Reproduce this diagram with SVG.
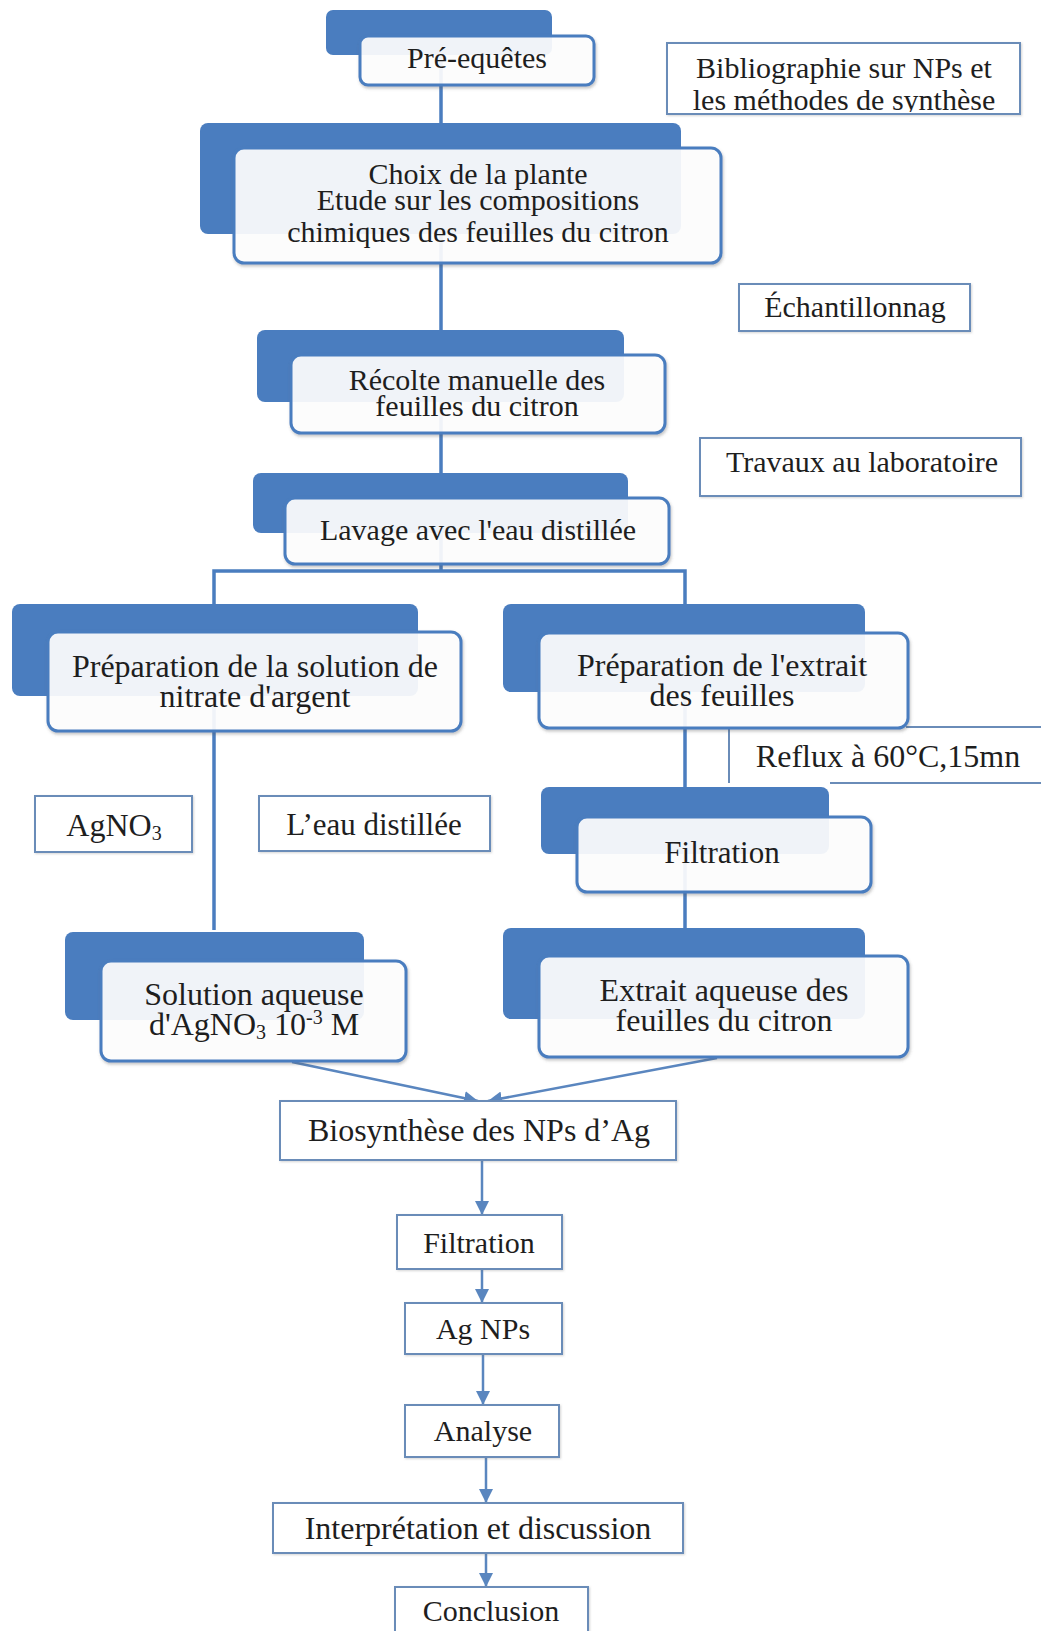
<svg xmlns="http://www.w3.org/2000/svg" width="1041" height="1631" viewBox="0 0 1041 1631">
<defs>
<style>
.tab{fill:#4a7dbf;}
.card{fill:#ffffff;fill-opacity:0.9;stroke:#4a7dbf;stroke-width:3;filter:url(#sh);}
.box{fill:#ffffff;stroke:#6a8cb8;stroke-width:2;filter:url(#sh2);}
.t{font-family:"Liberation Serif","Times New Roman",serif;fill:#1e1e1e;text-anchor:middle;font-size:30px;}
.m{font-size:32px;}
.conn{stroke:#4a7dbf;stroke-width:3.5;fill:none;}
.arr{stroke:#5a86bf;stroke-width:2.5;fill:none;marker-end:url(#ah);}
.rl{stroke:#6a8cb8;stroke-width:2;fill:none;}
</style>
<filter id="sh" x="-5%" y="-10%" width="110%" height="130%">
<feDropShadow dx="1" dy="2" stdDeviation="1.5" flood-color="#555" flood-opacity="0.35"/>
</filter>
<filter id="sh2" x="-5%" y="-10%" width="110%" height="130%">
<feDropShadow dx="1" dy="1" stdDeviation="1" flood-color="#777" flood-opacity="0.3"/>
</filter>
<marker id="ah" viewBox="0 0 10 10" refX="10" refY="5" markerUnits="userSpaceOnUse" markerWidth="14" markerHeight="14" orient="auto">
<path d="M0,0 L10,5 L0,10 z" fill="#5a86bf"/>
</marker>
<clipPath id="bibclip"><rect x="667" y="43" width="353" height="69"/></clipPath>
</defs>
<rect width="1041" height="1631" fill="#ffffff"/>

<g id="connectors">
<path class="conn" d="M441 40 V571"/>
<path class="conn" d="M214 610 V571 H685 V610"/>
<path class="conn" d="M214 680 V930"/>
<path class="conn" d="M685 680 V935"/>
<path class="arr" d="M292 1062 L478 1101"/>
<path class="arr" d="M717 1058 L488 1101"/>
<path class="arr" d="M482 1160 V1215"/>
<path class="arr" d="M482 1269 V1303"/>
<path class="arr" d="M483 1354 V1405"/>
<path class="arr" d="M486 1457 V1503"/>
<path class="arr" d="M486 1553 V1587"/>
</g>

<g id="n-reflux">
<path class="rl" d="M906 727 H1041 M729 728 V783 M830 783 H1041"/>
<text class="t m" x="888" y="767">Reflux à 60°C,15mn</text>
</g>

<g id="n-preenquetes">
<rect class="tab" x="326" y="10" width="226" height="45" rx="7"/>
<rect class="card" x="360" y="36" width="234" height="49" rx="8"/>
<text class="t" x="477" y="68">Pré-equêtes</text>
</g>

<g id="n-biblio">
<rect class="box" x="667" y="43" width="353" height="71"/>
<g clip-path="url(#bibclip)">
<text class="t" x="844" y="78">Bibliographie sur NPs et</text>
<text class="t" x="844" y="110">les méthodes de synthèse</text>
</g>
</g>

<g id="n-choix">
<rect class="tab" x="200" y="123" width="481" height="111" rx="8"/>
<rect class="card" x="234" y="148" width="487" height="115" rx="10"/>
<text class="t" x="478" y="184">Choix de la plante</text>
<text class="t" x="478" y="210">Etude sur les compositions</text>
<text class="t" x="478" y="242">chimiques des feuilles du citron</text>
</g>

<g id="n-echant">
<rect class="box" x="739" y="284" width="231" height="47"/>
<text class="t" x="855" y="317">Échantillonnag</text>
</g>

<g id="n-recolte">
<rect class="tab" x="257" y="330" width="367" height="72" rx="8"/>
<rect class="card" x="291" y="355" width="374" height="78" rx="10"/>
<text class="t" x="477" y="390">Récolte manuelle des</text>
<text class="t" x="477" y="416">feuilles  du citron</text>
</g>

<g id="n-travaux">
<rect class="box" x="700" y="438" width="321" height="58"/>
<text class="t" x="862" y="472">Travaux au laboratoire</text>
</g>

<g id="n-lavage">
<rect class="tab" x="253" y="473" width="375" height="60" rx="8"/>
<rect class="card" x="285" y="498" width="384" height="66" rx="10"/>
<text class="t" x="478" y="540">Lavage avec l'eau distillée</text>
</g>

<g id="n-prep-nitrate">
<rect class="tab" x="12" y="604" width="406" height="92" rx="8"/>
<rect class="card" x="48" y="632" width="413" height="99" rx="10"/>
<text class="t m" x="255" y="677">Préparation de la solution de</text>
<text class="t m" x="255" y="707">nitrate d'argent</text>
</g>

<g id="n-prep-extrait">
<rect class="tab" x="503" y="604" width="362" height="88" rx="8"/>
<rect class="card" x="539" y="633" width="369" height="95" rx="10"/>
<text class="t m" x="722" y="676">Préparation de l'extrait</text>
<text class="t m" x="722" y="706">des feuilles</text>
</g>

<g id="n-agno3">
<rect class="box" x="35" y="796" width="157" height="56"/>
<text class="t m" x="114" y="836">AgNO<tspan font-size="20" dy="4">3</tspan></text>
</g>

<g id="n-eau">
<rect class="box" x="259" y="796" width="231" height="55"/>
<text class="t" x="374" y="835" style="font-size:31px">L’eau distillée</text>
</g>

<g id="n-filtration1">
<rect class="tab" x="541" y="787" width="288" height="67" rx="8"/>
<rect class="card" x="577" y="817" width="294" height="75" rx="10"/>
<text class="t" x="722" y="863" style="font-size:31px">Filtration</text>
</g>

<g id="n-solution">
<rect class="tab" x="65" y="932" width="299" height="88" rx="8"/>
<rect class="card" x="101" y="961" width="305" height="100" rx="10"/>
<text class="t m" x="254" y="1005">Solution aqueuse</text>
<text class="t m" x="254" y="1035">d'AgNO<tspan font-size="20" dy="4">3</tspan><tspan dy="-4"> 10</tspan><tspan font-size="20" dy="-11">-3</tspan><tspan dy="11"> M</tspan></text>
</g>

<g id="n-extrait">
<rect class="tab" x="503" y="928" width="362" height="91" rx="8"/>
<rect class="card" x="539" y="956" width="369" height="101" rx="10"/>
<text class="t m" x="724" y="1001">Extrait  aqueuse des</text>
<text class="t m" x="724" y="1031">feuilles  du citron</text>
</g>

<g id="n-biosynthese">
<rect class="box" x="280" y="1101" width="396" height="59"/>
<text class="t m" x="479" y="1141">Biosynthèse des NPs d’Ag</text>
</g>

<g id="n-filtration2">
<rect class="box" x="397" y="1215" width="165" height="54"/>
<text class="t" x="479" y="1253">Filtration</text>
</g>

<g id="n-agnps">
<rect class="box" x="405" y="1303" width="157" height="51"/>
<text class="t" x="483" y="1339">Ag NPs</text>
</g>

<g id="n-analyse">
<rect class="box" x="405" y="1405" width="154" height="52"/>
<text class="t" x="483" y="1441">Analyse</text>
</g>

<g id="n-interpretation">
<rect class="box" x="273" y="1503" width="410" height="50"/>
<text class="t m" x="478" y="1539">Interprétation et discussion</text>
</g>

<g id="n-conclusion">
<rect class="box" x="395" y="1587" width="193" height="60"/>
<text class="t" x="491" y="1621">Conclusion</text>
</g>
</svg>
